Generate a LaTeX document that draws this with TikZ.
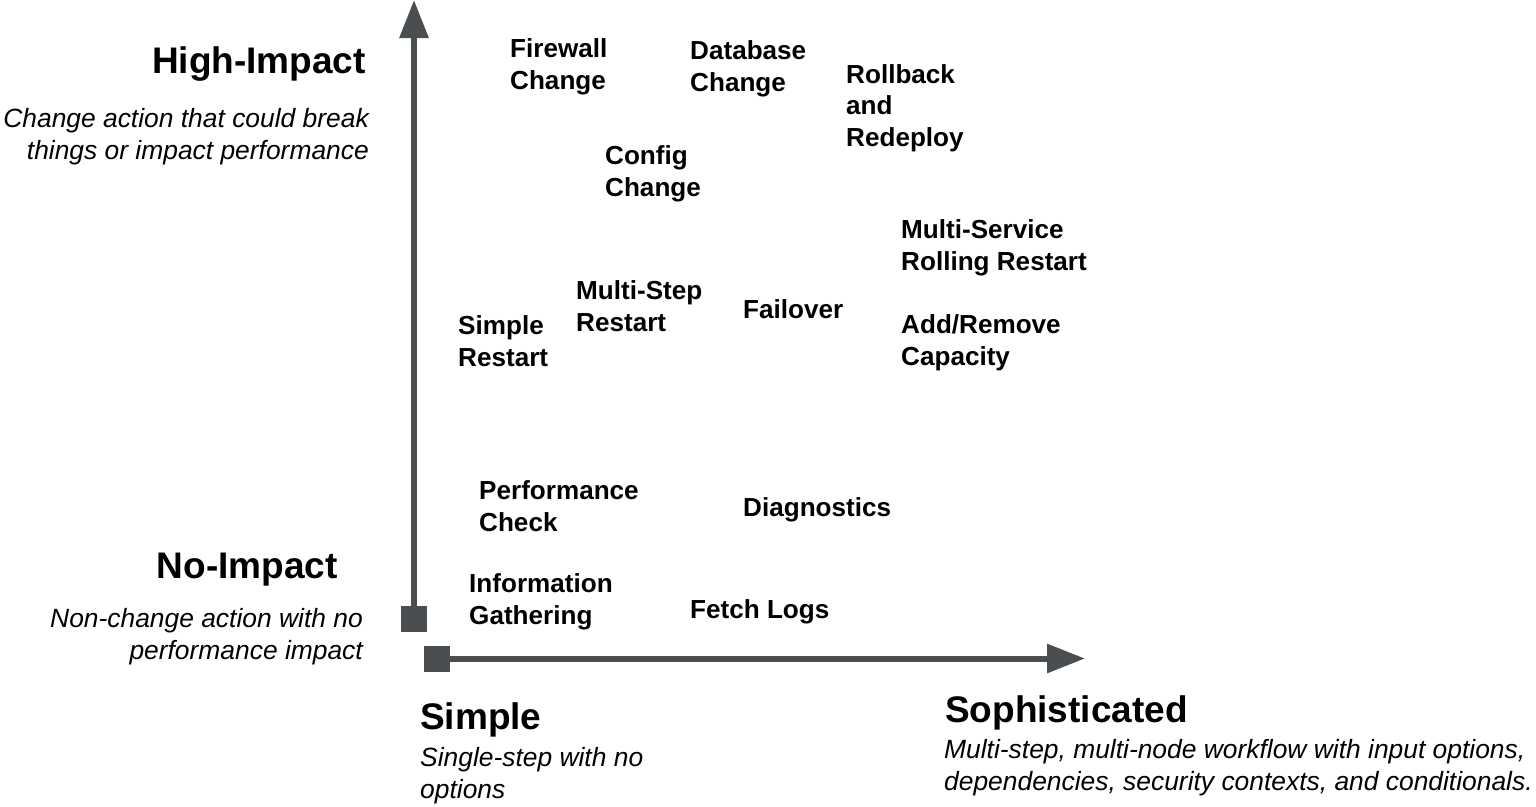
\documentclass[tikz,border=0pt]{standalone}
\usepackage{fontspec}
\setmainfont{Liberation Sans}
\usetikzlibrary{arrows.meta}
\definecolor{axisgray}{RGB}{74,78,80}
\begin{document}
\begin{tikzpicture}[x=1pt,y=-1pt,
  item/.style={anchor=base west,align=left,inner sep=0pt,font=\bfseries\fontsize{26.1}{31.5}\selectfont},
  head/.style={inner sep=0pt,font=\bfseries\fontsize{37}{44}\selectfont},
  desc/.style={inner sep=0pt,font=\itshape\fontsize{26.4}{31.5}\selectfont},
  sq/.style={fill=axisgray,draw=none,minimum size=26pt,inner sep=0pt},
  axis/.style={draw=axisgray,line width=6pt,-{Triangle[length=38pt,width=28pt]}}]
\useasboundingbox (0,0) rectangle (1536,806);
% axes
\node[sq] (ysq) at (414,619) {};
\node[sq] (xsq) at (437,658.5) {};
\coordinate (ytip) at (414,0);
\coordinate (xtip) at (1085,658.5);
\draw[axis] (ysq.north) -- (ytip);
\draw[axis] (xsq.east) -- (xtip);
% headers (base = last line)
\node[head,anchor=base east] (hi) at (366,73) {High-Impact};
\node[desc,anchor=base east,align=right] (hid) at (369,159) {Change action that could break\\things or impact performance};
\node[head,anchor=base east] (no) at (338,578) {No-Impact};
\node[desc,anchor=base east,align=right] (nod) at (363,659) {Non-change action with no\\performance impact};
\node[head,anchor=base west] (simp) at (420,729) {Simple};
\node[desc,anchor=base west,align=left] (simpd) at (420,798) {Single-step with no\\options};
\node[head,anchor=base west] (soph) at (945,722) {Sophisticated};
\node[desc,anchor=base west,align=left] (sophd) at (944,790) {Multi-step, multi-node workflow with input options,\\dependencies, security contexts, and conditionals.};
% items (base = last line)
\node[item] (fw) at (510,89) {Firewall\\Change};
\node[item] (db) at (690,91) {Database\\Change};
\node[item] (rb) at (846,146) {Rollback\\and\\Redeploy};
\node[item] (cfg) at (605,196) {Config\\Change};
\node[item] (msr) at (901,270) {Multi-Service\\Rolling Restart};
\node[item] (mst) at (576,331) {Multi-Step\\Restart};
\node[item] (fo) at (743,318) {Failover};
\node[item] (sr) at (458,366) {Simple\\Restart};
\node[item] (ar) at (901,365) {Add/Remove\\Capacity};
\node[item] (pc) at (479,531) {Performance\\Check};
\node[item] (dg) at (743,516) {Diagnostics};
\node[item] (ig) at (469,624) {Information\\Gathering};
\node[item] (fl) at (690,618) {Fetch Logs};
\end{tikzpicture}
\end{document}
